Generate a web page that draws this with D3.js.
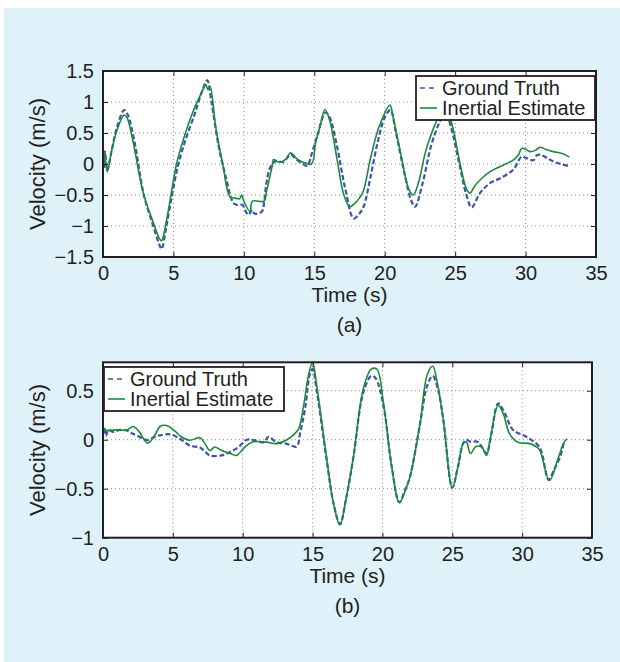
<!DOCTYPE html>
<html lang="en">
<head>
<meta charset="utf-8">
<title>Velocity estimate</title>
<script src="https://cdnjs.cloudflare.com/ajax/libs/d3/7.8.5/d3.min.js"></script>
<style>
  body { margin: 0; background: #fff; }
  svg text { font-family: "Liberation Sans", Arial, sans-serif; fill: #231f20; }
</style>
</head>
<body>
<div id="chart"></div>
<script>
// data: [time (s), velocity (m/s)]
var truthA = [[0,0.25],[0.08,-0.05],[0.15,0.2],[0.3,-0.1],[0.6,0.2],[1.0,0.6],[1.5,0.87],[1.75,0.8],[2.2,0.4],
  [2.9,-0.5],[3.5,-0.95],[4.0,-1.3],[4.16,-1.37],[4.5,-1.0],[4.9,-0.5],[5.3,-0.05],[5.8,0.35],[6.5,0.8],[7.0,1.15],
  [7.4,1.35],[7.7,1.0],[8.2,0.3],[8.7,-0.2],[9.1,-0.55],[9.25,-0.63],[9.5,-0.66],[9.9,-0.66],[10.1,-0.75],[10.32,-0.82],
  [10.6,-0.74],[10.75,-0.8],[11.27,-0.77],[11.45,-0.6],[11.6,-0.31],[11.9,-0.04],[12.3,0.05],[12.8,0.03],[13.3,0.15],
  [13.7,0.08],[14.2,0.0],[14.5,-0.03],[14.8,0.15],[15.2,0.45],[15.8,0.83],[16.1,0.75],[16.6,0.3],[17.2,-0.4],
  [17.8,-0.88],[18.2,-0.8],[18.5,-0.69],[19.0,-0.2],[19.5,0.35],[20.0,0.75],[20.4,0.87],[20.8,0.5],[21.4,-0.15],
  [21.9,-0.6],[22.15,-0.69],[22.7,-0.3],[23.3,0.3],[23.9,0.68],[24.3,0.85],[24.7,0.6],[25.3,0.0],[25.8,-0.5],
  [26.17,-0.7],[26.76,-0.47],[27.47,-0.31],[28.2,-0.23],[29.13,-0.09],[29.72,0.12],[30.0,0.1],[30.55,0.06],
  [30.75,0.13],[31.02,0.15],[31.5,0.1],[31.97,0.04],[32.5,0.0],[33.03,-0.03]];
var inertialA = [[0,0.3],[0.05,0.0],[0.12,0.15],[0.3,-0.12],[0.6,0.2],[1.0,0.55],[1.5,0.79],[1.7,0.75],[2.1,0.4],
  [2.86,-0.47],[3.5,-0.9],[4.0,-1.2],[4.16,-1.24],[4.3,-1.15],[4.6,-0.8],[5.23,0.01],[5.7,0.39],[6.4,0.85],[7.0,1.15],
  [7.3,1.28],[7.45,1.2],[7.6,1.25],[8.0,0.6],[8.5,0.0],[9.02,-0.53],[9.4,-0.55],[9.7,-0.56],[9.85,-0.5],[10.0,-0.6],
  [10.44,-0.77],[10.6,-0.6],[11.43,-0.6],[11.6,-0.45],[12.05,0.01],[12.1,0.07],[12.5,0.03],[13.0,0.08],[13.3,0.18],
  [13.8,0.08],[14.2,0.03],[14.8,0.0],[15.1,0.35],[15.4,0.6],[15.76,0.88],[16.1,0.7],[16.6,0.1],[17.1,-0.5],
  [17.53,-0.69],[17.8,-0.65],[18.2,-0.55],[18.48,-0.44],[19.0,0.1],[19.6,0.6],[20.37,0.95],[20.6,0.75],[21.2,0.1],
  [21.7,-0.4],[22.03,-0.5],[22.4,-0.3],[22.9,0.2],[23.45,0.57],[23.9,0.8],[24.2,0.95],[24.5,0.85],[24.87,0.55],
  [25.4,-0.05],[25.8,-0.4],[26.05,-0.47],[26.4,-0.35],[26.9,-0.23],[27.5,-0.12],[28.2,-0.04],[29.1,0.06],[29.5,0.15],
  [29.72,0.25],[30.0,0.24],[30.3,0.2],[30.7,0.22],[31.02,0.27],[31.5,0.23],[31.97,0.2],[32.4,0.18],[32.7,0.16],[33.1,0.11]];

var truthB = [[0,0.05],[0.1,0.12],[0.2,0.04],[0.4,0.1],[0.74,0.08],[1.2,0.1],[1.7,0.095],[2.0,0.07],[2.4,0.045],
  [3.2,-0.005],[3.7,0.03],[4.08,0.045],[4.8,0.055],[5.5,0.01],[6.2,-0.06],[6.94,-0.08],[7.3,-0.12],[7.65,-0.16],
  [8.5,-0.16],[9.1,-0.125],[9.7,-0.075],[10.3,0.0],[10.8,-0.005],[11.5,-0.025],[11.85,0.03],[12.4,-0.025],[13.1,-0.04],
  [13.86,-0.07],[14.1,0.06],[14.5,0.35],[14.8,0.67],[15.0,0.72],[15.3,0.5],[16.0,-0.2],[16.5,-0.65],[16.96,-0.86],
  [17.4,-0.6],[17.92,-0.18],[18.63,0.48],[19.2,0.65],[19.5,0.63],[20.07,0.35],[20.67,-0.28],[21.21,-0.64],[21.6,-0.52],
  [21.97,-0.38],[22.69,0.16],[23.2,0.55],[23.6,0.65],[24.0,0.5],[24.36,0.2],[25.0,-0.49],[25.4,-0.28],[25.77,-0.04],
  [26.0,0.0],[26.3,-0.02],[26.8,-0.02],[27.1,-0.07],[27.45,-0.14],[27.8,0.06],[28.28,0.37],[28.76,0.27],[29.35,0.1],
  [30.3,0.03],[31.16,-0.06],[31.4,-0.13],[31.9,-0.41],[32.3,-0.3],[32.7,-0.18],[33.0,-0.02]];
var inertialB = [[0,0.2],[0.1,0.1],[0.4,0.095],[0.98,0.1],[1.7,0.1],[2.17,0.135],[2.6,0.08],[3.2,-0.035],[3.7,0.045],
  [4.08,0.135],[4.55,0.145],[5.13,0.09],[5.6,0.03],[6.2,-0.005],[6.94,0.02],[7.3,-0.04],[7.65,-0.11],[8.0,-0.075],
  [8.5,-0.11],[9.1,-0.14],[9.57,-0.16],[10.05,-0.09],[10.65,-0.025],[11.7,-0.025],[12.4,-0.04],[13.1,-0.005],
  [13.6,0.045],[14.0,0.11],[14.34,0.33],[14.7,0.65],[15.0,0.79],[15.3,0.55],[16.0,-0.18],[16.5,-0.65],[16.96,-0.87],
  [17.4,-0.6],[17.92,-0.18],[18.63,0.52],[19.2,0.72],[19.6,0.72],[20.07,0.38],[20.67,-0.28],[21.21,-0.64],[21.74,-0.48],
  [21.97,-0.38],[22.69,0.16],[23.2,0.66],[23.6,0.75],[23.9,0.6],[24.36,0.2],[25.0,-0.49],[25.4,-0.28],[25.77,-0.04],
  [26.0,-0.02],[26.3,-0.14],[26.7,-0.07],[27.1,-0.075],[27.45,-0.16],[27.7,0.0],[28.28,0.35],[28.64,0.27],[29.1,0.06],
  [29.7,-0.025],[30.56,-0.04],[31.05,-0.075],[31.28,-0.11],[31.95,-0.415],[32.6,-0.18],[32.95,-0.04],[33.2,0.01]];

var xTicks = [0, 5, 10, 15, 20, 25, 30, 35];
var yTicksA = [-1.5, -1, -0.5, 0, 0.5, 1, 1.5];
var yTicksB = [-1, -0.5, 0, 0.5];
var seriesNames = ["Ground Truth", "Inertial Estimate"];
var captions = ["(a)", "(b)"];

var blue = "#3b55a8", green = "#1b8a3c";

var svg = d3.select("#chart").append("svg")
  .attr("width", 620)
  .attr("height", 662);

svg.append("rect")
  .attr("x", 4).attr("y", 8)
  .attr("width", 616).attr("height", 654)
  .attr("fill", "#dff2fa");

function fmt(d) { return (d < 0 ? "\u2212" : "") + Math.abs(d); }

function panel(id, box, yDomain, yTicks, truth, inertial, legendBox, caption) {
  var x = d3.scaleLinear().domain([0, 35]).range([box.left, box.right]);
  var y = d3.scaleLinear().domain(yDomain).range([box.bottom, box.top]);
  var w = box.right - box.left, h = box.bottom - box.top;

  var g = svg.append("g");

  g.append("rect")
    .attr("x", box.left).attr("y", box.top)
    .attr("width", w).attr("height", h)
    .attr("fill", "#fff");

  // dotted grid
  g.selectAll(".gx").data(xTicks.slice(1, -1)).enter().append("line")
    .attr("x1", d => x(d)).attr("x2", d => x(d))
    .attr("y1", box.top).attr("y2", box.bottom)
    .attr("stroke", "#8a8a8a").attr("stroke-width", 1).attr("stroke-dasharray", "1,3");
  g.selectAll(".gy").data(yTicks.filter(d => y(d) > box.top + 1 && y(d) < box.bottom - 1)).enter().append("line")
    .attr("y1", d => y(d)).attr("y2", d => y(d))
    .attr("x1", box.left).attr("x2", box.right)
    .attr("stroke", "#8a8a8a").attr("stroke-width", 1).attr("stroke-dasharray", "1,3");

  // lines
  svg.append("clipPath").attr("id", "clip" + id)
    .append("rect").attr("x", box.left).attr("y", box.top).attr("width", w).attr("height", h);

  var line = d3.line().x(d => x(d[0])).y(d => y(d[1])).curve(d3.curveCatmullRom.alpha(0.5));
  g.append("path").datum(truth)
    .attr("d", line).attr("clip-path", "url(#clip" + id + ")")
    .attr("fill", "none").attr("stroke", blue).attr("stroke-width", 2.2)
    .attr("stroke-dasharray", "5,2.5");
  g.append("path").datum(inertial)
    .attr("d", line).attr("clip-path", "url(#clip" + id + ")")
    .attr("fill", "none").attr("stroke", green).attr("stroke-width", 1.6);

  // axes, ticks inside
  g.append("g").attr("transform", "translate(0," + box.bottom + ")")
    .call(d3.axisBottom(x).tickValues(xTicks).tickSize(-5).tickPadding(9).tickFormat(fmt));
  g.append("g").attr("transform", "translate(" + box.left + ",0)")
    .call(d3.axisLeft(y).tickValues(yTicks).tickSize(-5).tickPadding(9).tickFormat(fmt));
  g.append("g").attr("transform", "translate(0," + box.top + ")")
    .call(d3.axisTop(x).tickValues(xTicks).tickSize(-5).tickFormat(""));
  g.append("g").attr("transform", "translate(" + box.right + ",0)")
    .call(d3.axisRight(y).tickValues(yTicks).tickSize(-5).tickFormat(""));
  g.selectAll(".domain").remove();
  g.selectAll(".tick line").attr("stroke", "#231f20").attr("stroke-width", 1);
  g.selectAll(".tick text").attr("font-size", 20).attr("fill", "#231f20")
    .style("font-family", "'Liberation Sans', Arial, sans-serif");

  g.append("rect")
    .attr("x", box.left).attr("y", box.top)
    .attr("width", w).attr("height", h)
    .attr("fill", "none").attr("stroke", "#231f20").attr("stroke-width", 2);

  var cx = (box.left + box.right) / 2;
  g.append("text").attr("x", cx).attr("y", box.bottom + 45)
    .attr("text-anchor", "middle").attr("font-size", 21).text("Time (s)");
  g.append("text").attr("x", cx).attr("y", box.bottom + 75)
    .attr("text-anchor", "middle").attr("font-size", 21).text(caption);
  g.append("text")
    .attr("transform", "translate(45," + (box.top + h / 2) + ") rotate(-90)")
    .attr("text-anchor", "middle").attr("font-size", 22).text("Velocity (m/s)");

  // legend
  var lg = g.append("g");
  lg.append("rect")
    .attr("x", legendBox.x).attr("y", legendBox.y)
    .attr("width", legendBox.w).attr("height", legendBox.h)
    .attr("fill", "#fff").attr("stroke", "#231f20").attr("stroke-width", 1.8);
  seriesNames.forEach(function(name, i) {
    var ly = legendBox.y + 12 + i * 20;
    lg.append("line")
      .attr("x1", legendBox.x + 4).attr("x2", legendBox.x + 21)
      .attr("y1", ly).attr("y2", ly)
      .attr("stroke", i == 0 ? blue : green).attr("stroke-width", 1.6)
      .attr("stroke-dasharray", i == 0 ? "5,4" : null);
    lg.append("text")
      .attr("x", legendBox.x + 26).attr("y", ly + 7)
      .attr("font-size", 20).text(name);
  });
}

panel("a", {left: 103, right: 596, top: 71, bottom: 257}, [-1.5, 1.5], yTicksA, truthA, inertialA,
  {x: 416, y: 76, w: 179, h: 44}, captions[0]);
panel("b", {left: 103, right: 592, top: 362.3, bottom: 537.7}, [-1, 0.79], yTicksB, truthB, inertialB,
  {x: 104, y: 367, w: 180, h: 44}, captions[1]);
</script>
</body>
</html>
